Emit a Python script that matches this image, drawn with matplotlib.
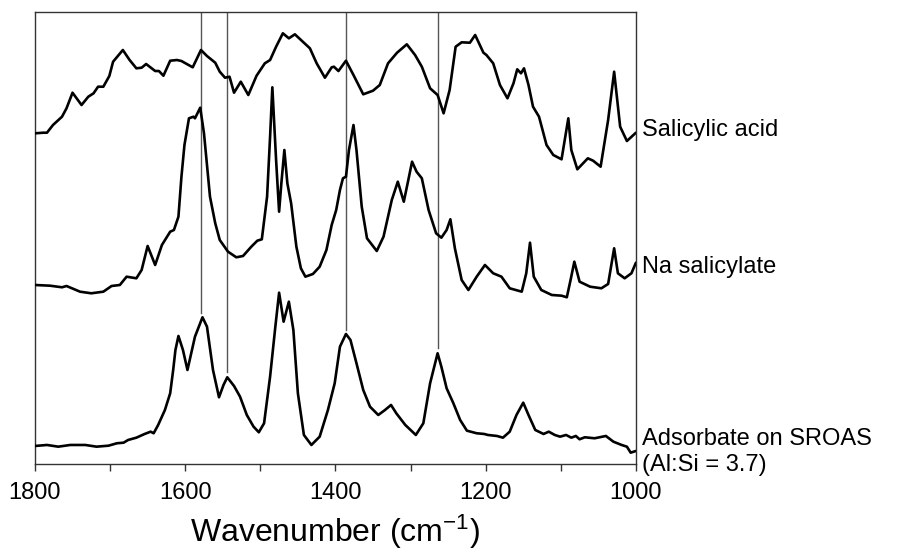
import matplotlib
matplotlib.use('Agg')
import matplotlib.pyplot as plt
from matplotlib.ticker import MultipleLocator

plt.rcParams['font.family'] = ['Liberation Sans', 'DejaVu Sans']
plt.rcParams['mathtext.default'] = 'regular'

# Salicylic acid spectrum (relative absorbance)
wn_acid = [1800, 1789, 1784, 1776, 1764, 1758, 1750, 1738, 1729, 1722, 1716, 1709,
           1701, 1696, 1683, 1674, 1665, 1658, 1652, 1640, 1635, 1629, 1620, 1611,
           1605, 1590, 1579, 1571, 1560, 1554, 1547, 1541, 1535, 1526, 1516, 1505,
           1494, 1487, 1479, 1470, 1462, 1454, 1442, 1434, 1425, 1414, 1405, 1402,
           1396, 1386, 1376, 1363, 1350, 1341, 1330, 1318, 1305, 1294, 1285, 1274,
           1264, 1256, 1248, 1240, 1232, 1221, 1214, 1203, 1199, 1190, 1181, 1171,
           1163, 1158, 1153, 1149, 1143, 1137, 1129, 1119, 1110, 1099, 1090, 1086,
           1078, 1064, 1057, 1047, 1037, 1029, 1021, 1012, 1000]
abs_acid = [0.367, 0.373, 0.373, 0.45, 0.533, 0.617, 0.773, 0.65, 0.733, 0.767, 0.833, 0.833,
            0.94, 1.083, 1.20, 1.10, 1.017, 1.023, 1.06, 0.99, 0.99, 0.943, 1.093, 1.10,
            1.09, 1.027, 1.20, 1.14, 1.073, 0.983, 0.923, 0.933, 0.773, 0.883, 0.75, 0.943,
            1.067, 1.10, 1.233, 1.367, 1.317, 1.357, 1.273, 1.217, 1.067, 0.923, 1.027, 1.033,
            0.99, 1.093, 0.95, 0.757, 0.793, 0.85, 1.067, 1.173, 1.257, 1.15, 1.033, 0.817,
            0.75, 0.567, 0.80, 1.233, 1.277, 1.273, 1.35, 1.173, 1.15, 1.067, 0.85, 0.717,
            0.867, 1.007, 0.967, 1.017, 0.85, 0.633, 0.533, 0.25, 0.15, 0.107, 0.517, 0.20,
            0.007, 0.117, 0.093, 0.033, 0.50, 0.983, 0.433, 0.29, 0.373]

# Na salicylate spectrum
wn_na = [1800, 1780, 1764, 1758, 1740, 1725, 1709, 1698, 1687, 1678, 1665, 1658,
         1650, 1640, 1631, 1620, 1615, 1609, 1605, 1601, 1595, 1589, 1587, 1580,
         1575, 1567, 1560, 1554, 1543, 1532, 1523, 1512, 1504, 1498, 1491, 1487,
         1484, 1479, 1475, 1472, 1468, 1464, 1459, 1452, 1446, 1440, 1430, 1421,
         1412, 1405, 1399, 1394, 1390, 1386, 1382, 1376, 1372, 1365, 1358, 1345,
         1336, 1325, 1317, 1309, 1303, 1298, 1292, 1285, 1276, 1266, 1259, 1252,
         1247, 1241, 1232, 1223, 1212, 1201, 1190, 1179, 1168, 1152, 1146, 1141,
         1136, 1126, 1112, 1099, 1092, 1087, 1082, 1075, 1061, 1046, 1037, 1029,
         1024, 1015, 1006, 1000]
abs_na = [0.15, 0.143, 0.127, 0.14, 0.083, 0.067, 0.083, 0.14, 0.15, 0.233, 0.217, 0.30,
          0.54, 0.35, 0.55, 0.683, 0.70, 0.833, 1.233, 1.55, 1.817, 1.833, 1.817, 1.923,
          1.667, 1.033, 0.767, 0.60, 0.483, 0.427, 0.44, 0.533, 0.593, 0.607, 1.033, 1.633,
          2.127, 1.40, 0.883, 1.167, 1.50, 1.167, 0.967, 0.533, 0.317, 0.233, 0.26, 0.333,
          0.50, 0.75, 0.90, 1.10, 1.217, 1.233, 1.50, 1.75, 1.50, 0.933, 0.617, 0.49,
          0.633, 1.00, 1.183, 0.983, 1.20, 1.383, 1.283, 1.217, 0.90, 0.667, 0.623, 0.70,
          0.807, 0.517, 0.20, 0.10, 0.233, 0.35, 0.267, 0.233, 0.117, 0.083, 0.267, 0.573,
          0.233, 0.10, 0.05, 0.043, 0.027, 0.20, 0.383, 0.183, 0.133, 0.117, 0.16, 0.517,
          0.267, 0.217, 0.267, 0.373]

# Adsorbate on SROAS (Al:Si = 3.7)
wn_ads = [1800, 1784, 1769, 1753, 1733, 1718, 1702, 1691, 1682, 1676, 1665, 1654,
          1646, 1642, 1636, 1627, 1620, 1616, 1613, 1609, 1603, 1597, 1587, 1577,
          1571, 1563, 1555, 1549, 1544, 1535, 1527, 1518, 1509, 1502, 1495, 1487,
          1480, 1475, 1469, 1462, 1456, 1450, 1442, 1432, 1421, 1410, 1401, 1394,
          1386, 1380, 1372, 1363, 1354, 1343, 1334, 1326, 1319, 1307, 1293, 1283,
          1274, 1264, 1259, 1252, 1243, 1234, 1225, 1212, 1202, 1197, 1185, 1177,
          1168, 1159, 1150, 1143, 1134, 1123, 1116, 1108, 1101, 1093, 1086, 1080,
          1075, 1068, 1055, 1040, 1030, 1019, 1012, 1007, 1000]
abs_ads = [0.09, 0.10, 0.083, 0.10, 0.10, 0.083, 0.093, 0.117, 0.123, 0.15, 0.173, 0.21,
           0.233, 0.217, 0.30, 0.45, 0.617, 0.85, 1.05, 1.19, 1.05, 0.85, 1.183, 1.377,
           1.283, 0.85, 0.577, 0.70, 0.777, 0.69, 0.583, 0.40, 0.283, 0.227, 0.317, 0.783,
           1.283, 1.623, 1.333, 1.533, 1.25, 0.617, 0.20, 0.10, 0.183, 0.45, 0.717, 1.083,
           1.21, 1.15, 0.917, 0.65, 0.483, 0.40, 0.45, 0.50, 0.417, 0.30, 0.20, 0.317,
           0.717, 1.017, 0.883, 0.667, 0.517, 0.35, 0.243, 0.217, 0.21, 0.20, 0.19, 0.173,
           0.233, 0.40, 0.523, 0.40, 0.25, 0.21, 0.233, 0.20, 0.183, 0.20, 0.173, 0.19,
           0.157, 0.177, 0.167, 0.19, 0.133, 0.10, 0.083, 0.023, 0.04]

labels = ['Salicylic acid', 'Na salicylate', 'Adsorbate on SROAS\n(Al:Si = 3.7)']
offsets = [2.94, 1.64, 0.09]

# guide lines: wavenumber and lower end
guide_wn = [1579, 1544, 1386, 1264]
guide_low = [1.51, 0.92, 1.34, 1.16]

fig = plt.figure(figsize=(9.01, 5.59), dpi=100)
ax = fig.add_axes([0.0388, 0.170, 0.667, 0.8085])

traces = [(wn_acid, abs_acid), (wn_na, abs_na), (wn_ads, abs_ads)]
for (wn, a), off in zip(traces, offsets):
    ax.plot(wn, [v + off for v in a], color='black', lw=1.9,
            solid_joinstyle='round', solid_capstyle='round', zorder=3)

ytop = 4.52
for w, lo in zip(guide_wn, guide_low):
    ax.plot([w, w], [lo, ytop], color='#555555', lw=1.0, zorder=2)

ax.set_xlim(1800, 1000)
ax.set_ylim(0, ytop)
ax.set_yticks([])
ax.xaxis.set_major_locator(MultipleLocator(200))
ax.xaxis.set_minor_locator(MultipleLocator(100))
ax.tick_params(axis='x', which='both', direction='out', length=5, width=1,
               color='#333333', labelsize=17, pad=8)
for s in ax.spines.values():
    s.set_color('#333333')
    s.set_linewidth(1.0)

ax.set_xlabel('Wavenumber (cm$^{-1}$)', fontsize=23, labelpad=6)

# labels at right of each trace
label_y = [130, 267, 452]
for lab, y in zip(labels, label_y):
    fig.text(642 / 901, 1 - y / 559, lab, fontsize=17, va='center', ha='left',
             linespacing=1.25)

fig.savefig('out.png', dpi=100)
